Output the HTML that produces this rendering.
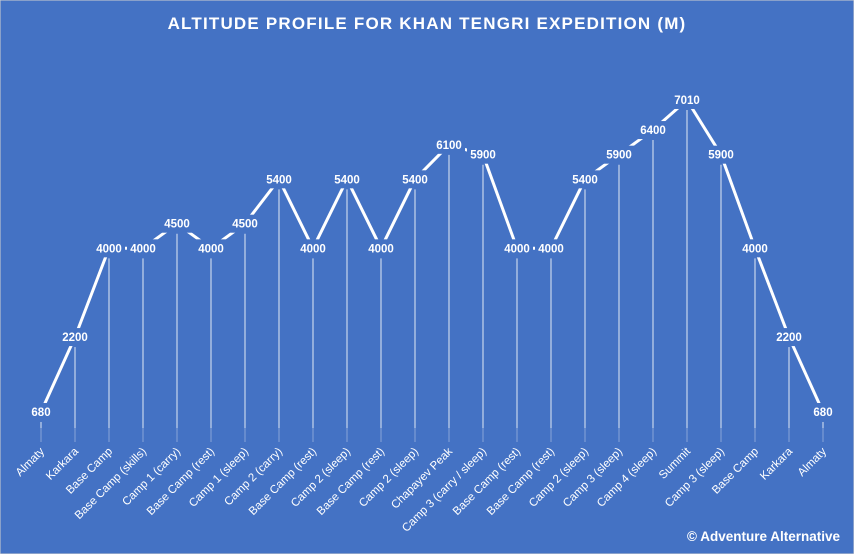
<!DOCTYPE html>
<html><head><meta charset="utf-8"><style>
html,body{margin:0;padding:0;background:#4472C4;}
svg{display:block;font-family:"Liberation Sans",sans-serif;}
</style></head><body>
<svg width="854" height="554" viewBox="0 0 854 554">
<rect x="0" y="0" width="854" height="554" fill="#4472C4" stroke="#d0d0d0" stroke-width="1"/>
<text x="427" y="29" text-anchor="middle" fill="#fff" font-size="17" font-weight="bold" letter-spacing="1.2">ALTITUDE PROFILE FOR KHAN TENGRI EXPEDITION (M)</text>
<g id="g"></g>
<text x="840" y="541" text-anchor="end" fill="#fff" font-size="13.5" font-weight="bold">© Adventure Alternative</text>
</svg>
<script>
var v=[680,2200,4000,4000,4500,4000,4500,5400,4000,5400,4000,5400,6100,5900,4000,4000,5400,5900,6400,7010,5900,4000,2200,680];
var n=["Almaty","Karkara","Base Camp","Base Camp (skills)","Camp 1 (carry)","Base Camp (rest)","Camp 1 (sleep)","Camp 2 (carry)","Base Camp (rest)","Camp 2 (sleep)","Base Camp (rest)","Camp 2 (sleep)","Chapayev Peak","Camp 3 (carry / sleep)","Base Camp (rest)","Base Camp (rest)","Camp 2 (sleep)","Camp 3 (sleep)","Camp 4 (sleep)","Summit","Camp 3 (sleep)","Base Camp","Karkara","Almaty"];
var s="",X=function(i){return 41+i*34},Y=function(a){return 445.5-a*0.04929};
var pts=v.map(function(a,i){return X(i)+","+Y(a).toFixed(1)}).join(" ");
for(var i=0;i<v.length;i++){var x=X(i),y=Y(v[i]);
s+='<line x1="'+x+'" y1="'+(y+10)+'" x2="'+x+'" y2="428" stroke="#fff" stroke-opacity="0.7" stroke-width="1.2"/>';
s+='<line x1="'+x+'" y1="428" x2="'+x+'" y2="442" stroke="#fff" stroke-opacity="0.3" stroke-width="1.2"/>';}
s+='<polyline points="'+pts+'" fill="none" stroke="#fff" stroke-width="3"/>';
for(var i=0;i<v.length;i++){var x=X(i),y=Y(v[i]),w=v[i]<1000?24:32;
s+='<rect x="'+(x-w/2)+'" y="'+(y-9)+'" width="'+w+'" height="18" fill="#4472C4"/>';
s+='<text x="'+x+'" y="'+(y+4)+'" text-anchor="middle" fill="#fff" font-size="11.5" font-weight="bold">'+v[i]+'</text>';
s+='<text transform="translate('+(x+4)+',452) rotate(-45)" text-anchor="end" fill="#fff" font-size="11.5">'+n[i]+'</text>';}
document.getElementById("g").innerHTML=s;
</script>
</body></html>
